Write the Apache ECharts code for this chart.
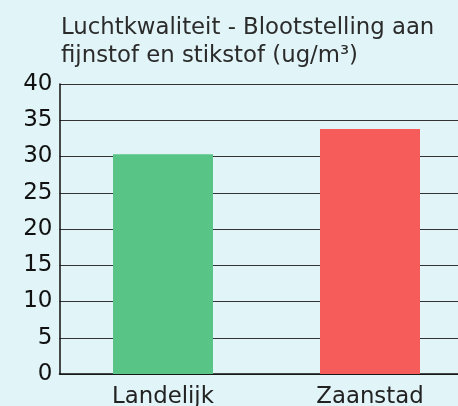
<!DOCTYPE html>
<html><head><meta charset="utf-8">
<script src="https://cdn.jsdelivr.net/npm/echarts@6/dist/echarts.min.js"></script>
<style>html,body{margin:0;padding:0;background:#e1f4f7;}#c{width:458px;height:406px;}</style>
</head><body><div id="c"></div>
<script>
const categories = ['Landelijk', 'Zaanstad'];
const values = [30.3, 33.8];
const colors = ['#58c486', '#f65c5a'];
const titleText = 'Luchtkwaliteit - Blootstelling aan\nfijnstof en stikstof (ug/m³)';

const chart = echarts.init(document.getElementById('c'), null, {renderer: 'canvas'});
chart.setOption({
  backgroundColor: '#e1f4f7',
  animation: false,
  title: {
    text: titleText, left: 56, top: 9,
    textStyle: {fontFamily: 'DejaVu Sans', fontWeight: 'normal', fontSize: 22.8, color: '#2b2b2b', lineHeight: 28}
  },
  grid: {left: 59.5, top: 84, right: -15.5, bottom: 32, containLabel: false, outerBoundsMode: 'none'},
  xAxis: {
    type: 'category', data: categories,
    axisLine: {lineStyle: {color: '#111', width: 1.5}},
    axisTick: {show: false},
    axisLabel: {fontFamily: 'DejaVu Sans', fontSize: 22.8, color: '#222', margin: 12}
  },
  yAxis: {
    type: 'value', min: 0, max: 40, interval: 5,
    axisLine: {show: true, lineStyle: {color: '#111', width: 1.5}},
    axisTick: {show: false},
    splitLine: {lineStyle: {color: '#333', width: 1}},
    axisLabel: {fontFamily: 'DejaVu Sans', fontSize: 23, color: '#111', margin: 7}
  },
  series: [{
    type: 'bar', barWidth: 100,
    data: values.map((v, i) => ({value: v, itemStyle: {color: colors[i]}}))
  }]
});
</script></body></html>
